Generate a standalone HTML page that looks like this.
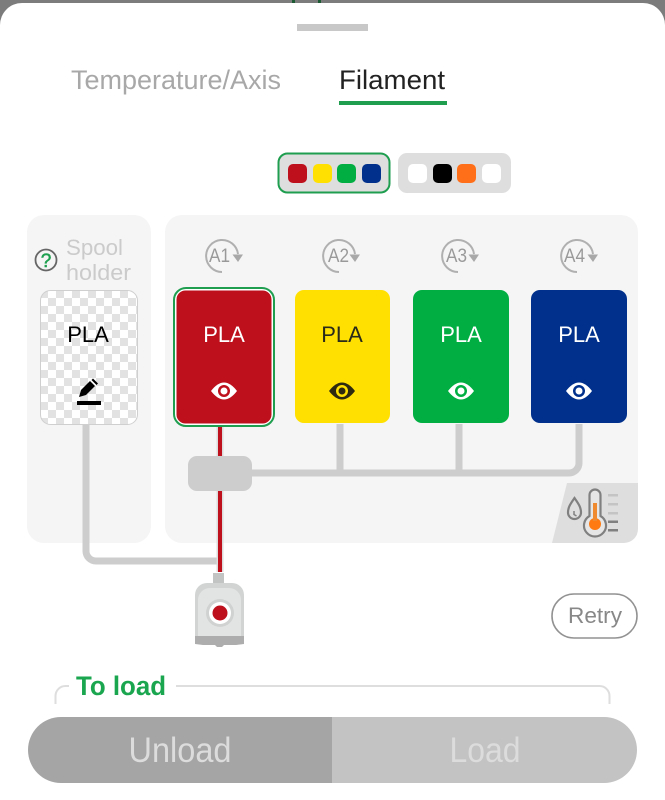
<!DOCTYPE html>
<html lang="en">
<head>
<meta charset="utf-8">
<title>Filament</title>
<style>
html,body{margin:0;padding:0;background:#fff;width:665px;height:800px;overflow:hidden}
svg{display:block}
text{font-family:"Liberation Sans",sans-serif}
</style>
</head>
<body>
<svg xmlns="http://www.w3.org/2000/svg" width="665" height="800" viewBox="0 0 665 800">
<defs>
<pattern id="chk" x="40" y="290" width="16" height="16" patternUnits="userSpaceOnUse">
<rect width="16" height="16" fill="#fff"/>
<rect width="8" height="8" fill="#e2e2e2"/>
<rect x="8" y="8" width="8" height="8" fill="#e2e2e2"/>
</pattern>
</defs>
<rect width="665" height="30" fill="#7c7c7c"/>
<rect x="292" y="0" width="3" height="3" fill="#1c5a34"/>
<rect x="318" y="0" width="3" height="3" fill="#1c5a34"/>
<rect x="0" y="3" width="665" height="797" rx="22" ry="22" fill="#fff"/>
<rect x="0" y="40" width="665" height="760" fill="#fff"/>
<rect x="297" y="24" width="71" height="7" fill="#c8c8c8"/>

<text x="71" y="89" font-size="27" fill="#a8a8a8" textLength="210" lengthAdjust="spacingAndGlyphs">Temperature/Axis</text>
<text x="339" y="89" font-size="27" fill="#222" textLength="106" lengthAdjust="spacingAndGlyphs">Filament</text>
<rect x="339" y="101" width="108" height="4" fill="#1f9e50"/>

<rect x="278.500" y="153.500" width="111" height="39" rx="9" fill="#dedede" stroke="#1f9e50" stroke-width="2"/>
<rect x="288" y="164" width="19" height="19" rx="5" fill="#bd0f1c"/>
<rect x="313" y="164" width="19" height="19" rx="5" fill="#ffe000"/>
<rect x="337" y="164" width="19" height="19" rx="5" fill="#00ae42"/>
<rect x="362" y="164" width="19" height="19" rx="5" fill="#00308c"/>
<rect x="398" y="153" width="113" height="40" rx="9" fill="#dedede"/>
<rect x="408" y="164" width="19" height="19" rx="5" fill="#fff"/>
<rect x="433" y="164" width="19" height="19" rx="5" fill="#000"/>
<rect x="457" y="164" width="19" height="19" rx="5" fill="#ff6e18"/>
<rect x="482" y="164" width="19" height="19" rx="5" fill="#fff"/>

<rect x="27" y="215" width="124" height="328" rx="17" fill="#f5f5f5"/>
<rect x="165" y="215" width="473" height="328" rx="17" fill="#f5f5f5"/>

<path d="M567 483H638V529A14 14 0 0 1 624 543H552Z" fill="#dedede"/>
<path d="M574.500 498C571 503 568 507 568 512.500A6.500 6.500 0 0 0 581 512.500C581 507 578 503 574.500 498Z" fill="none" stroke="#808080" stroke-width="2.200"/>
<path d="M574 511V514.500L576.500 516" fill="none" stroke="#808080" stroke-width="1.500"/>
<path d="M589.500 516V495A5.500 5.500 0 0 1 600.500 495V516A11 11 0 1 1 589.500 516Z" fill="#e6e6e6" stroke="#808080" stroke-width="2.200"/>
<circle cx="595" cy="524" r="6" fill="#ff7a10"/>
<rect x="593" y="503" width="4" height="18" fill="#f08a30"/>
<g fill="#c4c4c4">
<rect x="608" y="494" width="10" height="2.500"/>
<rect x="608" y="503" width="10" height="2.500"/>
<rect x="608" y="512" width="10" height="2.500"/>
</g>
<g fill="#808080">
<rect x="608" y="520.500" width="10" height="2.500"/>
<rect x="608" y="529" width="10" height="2.500"/>
</g>

<path d="M340 424V473M459 424V473" fill="none" stroke="#cdcdcd" stroke-width="7"/>
<path d="M250 473H569A10 10 0 0 0 579 463V424" fill="none" stroke="#cdcdcd" stroke-width="7"/>
<path d="M86 424V551A10 10 0 0 0 96 561H218" fill="none" stroke="#cdcdcd" stroke-width="7"/>

<path d="M220 426V572" fill="none" stroke="#dcdcdc" stroke-width="7"/>
<path d="M220 426V572" fill="none" stroke="#bd0f1c" stroke-width="4"/>
<rect x="188" y="456" width="64" height="35" rx="9" fill="#cdcdcd"/>

<rect x="213" y="573" width="11" height="12" fill="#c2c4c4"/>
<path d="M195 636V595A12 12 0 0 1 207 583H232A12 12 0 0 1 244 595V636Z" fill="#d2d4d4"/>
<path d="M198 636V600A12 12 0 0 1 210 588H229A12 12 0 0 1 241 600V636Z" fill="#e2e4e4"/>
<path d="M195 636H244V644L236 645H224L222 647H217L215 645H203L195 644Z" fill="#adadad"/>
<circle cx="220" cy="613" r="14" fill="#d0d2d2"/>
<circle cx="220" cy="613" r="11" fill="#fff"/>
<circle cx="220" cy="613" r="7.500" fill="#bd0f1c"/>

<g fill="none" stroke="#b0b0b0" stroke-width="2">
<path d="M222 272A16 16 0 1 1 238 254"/>
<path d="M339 272A16 16 0 1 1 355 254"/>
<path d="M458 272A16 16 0 1 1 474 254"/>
<path d="M577 272A16 16 0 1 1 593 254"/>
</g>
<g fill="#a8a8a8">
<path d="M232.500 254.500H243L238 262Z"/>
<path d="M349.500 254.500H360L355 262Z"/>
<path d="M468.500 254.500H479L474 262Z"/>
<path d="M587.500 254.500H598L593 262Z"/>
</g>
<g font-size="19" fill="#999">
<text x="209" y="262" textLength="21" lengthAdjust="spacingAndGlyphs">A1</text>
<text x="328" y="262" textLength="21" lengthAdjust="spacingAndGlyphs">A2</text>
<text x="446" y="262" textLength="21" lengthAdjust="spacingAndGlyphs">A3</text>
<text x="564" y="262" textLength="21" lengthAdjust="spacingAndGlyphs">A4</text>
</g>

<circle cx="46" cy="260" r="10.500" fill="none" stroke="#666" stroke-width="1.800"/>
<text x="46" y="267" font-size="19" fill="#1fa050" stroke="#1fa050" stroke-width="0.500" text-anchor="middle">?</text>
<text x="66" y="255" font-size="22" fill="#cbcbcb" textLength="57" lengthAdjust="spacingAndGlyphs">Spool</text>
<text x="66" y="280" font-size="22" fill="#cbcbcb" textLength="65" lengthAdjust="spacingAndGlyphs">holder</text>

<rect x="40.500" y="290.500" width="97" height="134" rx="10" fill="url(#chk)" stroke="#cfcfcf" stroke-width="1"/>
<text x="88" y="342" font-size="22" fill="#000" text-anchor="middle">PLA</text>
<path d="M79 397L81 390L90 381L95 386L86 395Z" fill="#000"/>
<path d="M91.500 380L93 378.500L98 383.500L96.500 385Z" fill="#000"/>
<rect x="77" y="401" width="24" height="4" fill="#000"/>

<rect x="174" y="288" width="100" height="138" rx="12" fill="#fff" stroke="#1f9e50" stroke-width="2"/>
<rect x="176.500" y="290.500" width="95" height="133" rx="9" fill="#bd0f1c"/>
<rect x="295" y="290" width="95" height="133" rx="9" fill="#ffe000"/>
<rect x="413" y="290" width="96" height="133" rx="9" fill="#00ae42"/>
<rect x="531" y="290" width="96" height="133" rx="9" fill="#00308c"/>

<g font-size="22" text-anchor="middle">
<text x="224" y="342" fill="#fff">PLA</text>
<text x="342" y="342" fill="#2a2a1a">PLA</text>
<text x="461" y="342" fill="#fff">PLA</text>
<text x="579" y="342" fill="#fff">PLA</text>
</g>

<path d="M211 391Q224 374 237 391Q224 408 211 391Z" fill="#fff"/>
<circle cx="224" cy="391" r="6" fill="#bd0f1c"/><circle cx="224" cy="391" r="3.500" fill="#fff"/>
<path d="M329 391Q342 374 355 391Q342 408 329 391Z" fill="#2e2a10"/>
<circle cx="342" cy="391" r="6" fill="#ffe000"/><circle cx="342" cy="391" r="3.500" fill="#2e2a10"/>
<path d="M448 391Q461 374 474 391Q461 408 448 391Z" fill="#fff"/>
<circle cx="461" cy="391" r="6" fill="#00ae42"/><circle cx="461" cy="391" r="3.500" fill="#fff"/>
<path d="M566 391Q579 374 592 391Q579 408 566 391Z" fill="#fff"/>
<circle cx="579" cy="391" r="6" fill="#00308c"/><circle cx="579" cy="391" r="3.500" fill="#fff"/>

<rect x="552" y="594" width="85" height="44" rx="22" fill="#fff" stroke="#929292" stroke-width="1.600"/>
<text x="595" y="623" font-size="22" fill="#888" text-anchor="middle" textLength="54" lengthAdjust="spacingAndGlyphs">Retry</text>

<path d="M55.500 704V696A10 10 0 0 1 65.500 686H69M176 686H599.500A10 10 0 0 1 609.500 696V704" fill="none" stroke="#dedede" stroke-width="2"/>
<text x="76" y="695" font-size="27" font-weight="bold" fill="#1aa64f" textLength="90" lengthAdjust="spacingAndGlyphs">To load</text>

<path d="M332 717H61A33 33 0 0 0 61 783H332Z" fill="#a5a5a5"/>
<path d="M332 717H604A33 33 0 0 1 604 783H332Z" fill="#c3c3c3"/>
<text x="180" y="762" font-size="35" fill="#dcdcdc" text-anchor="middle" textLength="103" lengthAdjust="spacingAndGlyphs">Unload</text>
<text x="485" y="762" font-size="35" fill="#dcdcdc" text-anchor="middle" textLength="71" lengthAdjust="spacingAndGlyphs">Load</text>
</svg>
</body>
</html>
